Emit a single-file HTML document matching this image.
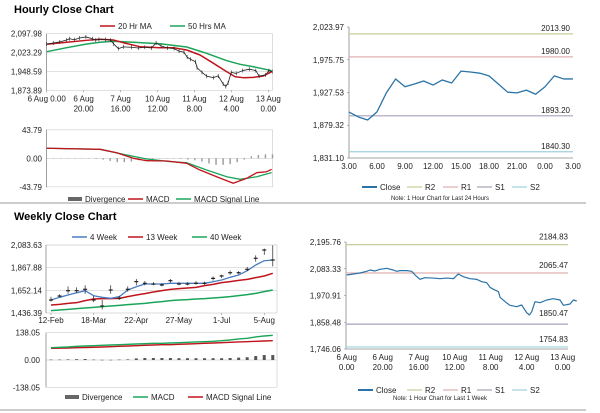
<!DOCTYPE html>
<html><head><meta charset="utf-8">
<style>
html,body{margin:0;padding:0;background:#fff;}
svg{display:block;font-family:"Liberation Sans",Arial,sans-serif;}
.t{font-size:8px;fill:#222;}
.n{font-size:6px;fill:#222;}
</style></head>
<body>
<svg id="s" width="600" height="413" viewBox="0 0 600 413" xmlns="http://www.w3.org/2000/svg">
<text x="14" y="13" font-size="11" font-weight="bold" fill="#000">Hourly Close Chart</text>
<text x="14" y="220" font-size="11" font-weight="bold" fill="#000">Weekly Close Chart</text>
<line x1="0" y1="203" x2="586" y2="203" stroke="#9a9a9a" stroke-width="1"/>
<line x1="0" y1="410" x2="586" y2="410" stroke="#9a9a9a" stroke-width="1"/>
</svg>
<script>
// ---------- DATA ----------
const closeHours=[0,3.7,7.4,11.1,13,15.7,18.5,22.2,25.9,27.8,29.6,33.3,36.1,38,40.7,43.5,48.1,51.9,55.6,59.3,62,64.8,68.5,72.2,75,77.8,79.6,81.5,84.3,85.2,88,90.7,94.4,97.2,100,101.5,102.8,104.6,107.4,111.1,114.8,118.5,120.4,124.1,125.9,127.8];
const closeVals=[2057,2061.3,2065.5,2072.6,2078.1,2073.9,2080.9,2085.2,2078.1,2072.6,2075.4,2075.4,2072.6,2057,2038.8,2045.7,2044.3,2041.5,2044.3,2041.5,2061.3,2050,2041.5,2038.8,2029,2024.8,2005.3,1996.9,1987,1963.3,1944.9,1929.7,1924,1931,1898.6,1888.9,1902.9,1944.9,1940.7,1952,1957.5,1952,1929.7,1935.2,1952,1947.8];
const ma20Hours=[0,10.8,21.7,28.9,36.1,41.5,50.5,61.4,68.6,75.8,83,90.3,97.5,102,106.5,111.9,117.3,121.8];
const ma20Vals=[2056,2064,2071.8,2075.8,2073,2062.3,2046.5,2042.6,2042.6,2033.4,2013.6,1980.8,1947.5,1927.7,1923.8,1925.3,1930.5,1947.5];
const ma50Hours=[0,10.8,21.7,28.9,36.1,46.9,61.4,75.8,86.6,97.5,104.7,111.9,121.8];
const ma50Vals=[2026.7,2042.6,2057.2,2064,2067.9,2064,2058.4,2045.3,2020.4,1991.1,1976.8,1967.3,1951.5];
const hMacdHours=[0,28.9,37.9,46.9,54.2,65,75.8,83,92,101,108.3,113.7,119.1,121.8];
const hMacdVals=[15.4,13.8,8.6,0,-3.7,-4.1,-7.7,-18,-28.3,-38.4,-30.7,-22.1,-20.6,-16.9];
const hSigHours=[0,28.9,43.3,54.2,65,75.8,86.6,97.5,104.7,113.7,121.8];
const hSigVals=[15.4,13.8,5.1,-1.1,-4.6,-6.8,-18,-28.3,-32.3,-28.3,-22.1];
const hDivVals=[0,0,0,0,0,0,0,-1,-2,-4,-6,-6,-5,-3,-2,-1,0,0,0,-1,-2,-3,-5,-8,-10,-10,-9,-6,-2,3,5,6,6];
const hourLabels1=["6 Aug 0.00","6 Aug","7 Aug","10 Aug","11 Aug","12 Aug","13 Aug"];
const hourLabels2=["","20.00","16.00","12.00","8.00","4.00","0.00"];
const hourPriceTicks=[2097.98,2023.29,1948.59,1873.89];
const hourMacdTicks=[43.79,0,-43.79];
const dayLabels=["3.00","6.00","9.00","12.00","15.00","18.00","21.00","0.00","3.00"];
const dayClose=[1898.8,1891.5,1887,1899,1927,1947.5,1936,1940,1944.5,1938.5,1946,1941.5,1959,1957.7,1956,1952,1940,1928,1927,1931,1925,1936,1952,1947.5,1947.5];
const dayTicks=[2023.97,1975.75,1927.53,1879.32,1831.10];
const dayLevels=[2013.90,1980.00,1893.20,1840.30];
const weekTicks=[2195.76,2083.33,1970.91,1858.48,1746.06];
const weekLevels=[2184.83,2065.47,1850.47,1754.83];
const levelColors=["#c8cc9a","#e0b0b0","#a8a0b8","#9fd0dc"];
const levelNames=["R2","R1","S1","S2"];
const wkLabels=["12-Feb","18-Mar","22-Apr","27-May","1-Jul","5-Aug"];
const wkTicks=[2083.63,1867.88,1652.14,1436.39];
const wkClose=[1560,1598,1649,1649,1662,1560,1503,1655,1576,1662,1735,1719,1712,1703,1744,1712,1712,1719,1719,1766,1789,1820,1820,1852,1957,2036,1941];
const wkHigh=[1590,1615,1690,1680,1700,1600,1560,1700,1600,1690,1760,1740,1730,1720,1760,1730,1730,1740,1735,1785,1800,1840,1835,1875,1985,2050,2080];
const wkLow=[1545,1585,1620,1625,1620,1540,1470,1620,1560,1640,1700,1700,1700,1690,1725,1700,1700,1705,1705,1745,1770,1800,1805,1835,1925,1990,1880];
const wk4=[1560,1585.7,1607.6,1629.5,1648.7,1601,1585.7,1576.2,1591.5,1655.2,1686.6,1712.3,1712.3,1712.3,1718.9,1718.9,1718.9,1718.9,1718.9,1734.2,1750.4,1776.1,1797.8,1838.9,1893.2,1934,1940.8];
const wk13=[1512.5,1518.9,1528.4,1534.7,1553.8,1569.6,1572.8,1572.8,1576,1591.9,1607.7,1620.4,1636.3,1649,1661.7,1668,1674.4,1680.7,1696.6,1709.3,1725.1,1734.6,1747.3,1756.9,1772.7,1788.6,1814];
const wk40=[1458.6,1464.9,1471.3,1477.6,1484,1490.3,1496.7,1503,1509.4,1515.7,1522.1,1528.4,1538,1544.3,1553.8,1560.1,1563.3,1569.6,1572.8,1579.2,1585.5,1591.9,1601.4,1610.9,1623.6,1639.5,1655.3];
const wkMacd=[62.4,64.1,65.8,69.2,70.8,72.5,74.2,75.9,77.6,79.3,80.9,82.6,84.3,84.3,86,87.7,89.4,91.1,92.8,94.4,97.8,101.2,106.3,109.6,116.4,121.4,124.8];
const wkSig=[59,59.9,60.7,62.4,63.2,64.1,65.8,67.5,69.2,70.8,72.5,74.2,75.9,77.6,77.6,79.3,80.9,82.6,84.3,86,87.7,89.4,91.1,92.8,94.4,96.1,97.8];
const wkDiv=[2,2,3,4,5,2,1,1,2,3,8,10,10,10,10,9,9,9,9,9,9,10,12,14,20,25,25];
const wkMacdTicks=[138.05,0,-138.05];

// ---------- HELPERS ----------
const S=document.getElementById('s');
const NS="http://www.w3.org/2000/svg";
function mk(tag,attrs){const e=document.createElementNS(NS,tag);for(const k in attrs)e.setAttribute(k,attrs[k]);S.appendChild(e);return e;}
function txt(x,y,s,anchor,cls,name){const e=mk('text',{x:x,y:y,'text-anchor':anchor||'start','class':cls||'t'});e.textContent=s;


return e;}
function line(x1,y1,x2,y2,c,w,name){const e=mk('line',{x1:x1,y1:y1,x2:x2,y2:y2,stroke:c,'stroke-width':w});


return e;}
function poly(xs,ys,fx,fy,c,w,name){let d='';for(let i=0;i<xs.length;i++){d+=(i?'L':'M')+fx(xs[i]).toFixed(2)+' '+fy(ys[i]).toFixed(2);}
const e=mk('path',{d:d,fill:'none',stroke:c,'stroke-width':w,'stroke-linejoin':'round'});


return e;}
function fmt(v){const s=Math.abs(v).toFixed(2);const p=s.split('.');p[0]=p[0].replace(/\B(?=(\d{3})+(?!\d))/g,',');return (v<0?'-':'')+p.join('.');}
function legendLine(x,y,c,label,w,name){line(x,y,x+15,y,c,w||1.5,name+'-swatch');txt(x+18,y+3,label,'start','t',name);}
function legendBox(x,y,label,name){const r=mk('rect',{x:x,y:y-2,width:14,height:4,fill:'#666'});


txt(x+17,y+3,label,'start','t',name);}
const idx=a=>a.map((_,i)=>i);

// ---------- A: Hourly price ----------
(function(){
const L=46.5,R=272.5,T=33.7,B=90.3,vMax=hourPriceTicks[0],vMin=hourPriceTicks[3];
const fx=h=>46.7+h*1.847, fy=v=>T+(vMax-v)/(vMax-vMin)*(B-T);
const fxc=h=>46.7+h*(225.5/closeHours[closeHours.length-1]);
hourPriceTicks.forEach((t,i)=>{line(L,fy(t),R,fy(t),'#cfcfcf',0.7,'hourly-gridline');txt(42,fy(t)+3,fmt(t),'end','t','hourly-y-tick');});
line(L,T,L,B,'#888',0.8,'hourly-y-axis');line(R,T,R,B,'#cfcfcf',0.7,'hourly-plot-border');
hourLabels1.forEach((s,i)=>{const x=fx(i*20);line(x,B,x,B+2,'#888',0.6,'hourly-x-tick-mark');txt(x,B+11,s,'middle','t','hourly-x-label');if(hourLabels2[i])txt(x,B+21,hourLabels2[i],'middle','t','hourly-x-label-time');});
poly(ma50Hours,ma50Vals,fx,fy,'#1aa55a',1.5,'ma50-line');
poly(ma20Hours,ma20Vals,fx,fy,'#c0141c',1.5,'ma20-line');
poly(closeHours,closeVals,fxc,fy,'#222',0.8,'hourly-price-candles');
closeHours.forEach((h,i)=>{line(fxc(h),fy(closeVals[i])-2,fxc(h),fy(closeVals[i])+2,'#222',0.6,'hourly-candle');});
legendLine(100,26,'#c0141c','20 Hr MA',1.5,'legend-20hr-ma');
legendLine(170,26,'#1aa55a','50 Hrs MA',1.5,'legend-50hrs-ma');
})();
// ---------- B: Hourly MACD ----------
(function(){
const L=46.5,R=272.5,T=129.8,B=187.3,m=hourMacdTicks[0];
const fx=h=>46.7+h*1.847, fy=v=>158.3-v/m*28.5;
hourMacdTicks.forEach(t=>{line(L,fy(t),R,fy(t),'#cfcfcf',0.7,'hourly-macd-gridline');txt(42,fy(t)+3,fmt(t),'end','t','hourly-macd-y-tick');});
line(L,T,L,B,'#888',0.8,'hourly-macd-y-axis');line(R,T,R,B,'#cfcfcf',0.7,'hourly-macd-border');
hDivVals.forEach((v,i)=>{const x=fx(i*4*0.955),y0=fy(0),y1=fy(v);const r=mk('rect',{x:x-0.7,y:Math.min(y0,y1),width:1.4,height:Math.max(0.3,Math.abs(y1-y0)),fill:'#999'});

});
poly(hSigHours,hSigVals,fx,fy,'#1aa55a',1.3,'hourly-signal-line');
poly(hMacdHours,hMacdVals,fx,fy,'#c0141c',1.3,'hourly-macd-line');
legendBox(68,199,'Divergence','legend-hourly-divergence');
legendLine(128,199,'#c0141c','MACD',1.5,'legend-hourly-macd');
legendLine(176,199,'#1aa55a','MACD Signal Line',1.5,'legend-hourly-signal');
})();
// ---------- C: Last 24 hours ----------
(function(){
const L=349,R=573,T=27,B=158,vMax=dayTicks[0],vMin=dayTicks[4];
const fx=i=>L+i*(R-L)/24, fy=v=>T+(vMax-v)/(vMax-vMin)*(B-T);
dayTicks.forEach(t=>{txt(344,fy(t)+3,fmt(t),'end','t','day-y-tick');line(L-2,fy(t),L,fy(t),'#888',0.6,'day-y-tick-mark');});
line(L,T,L,B,'#888',0.8,'day-y-axis');line(L,B,R,B,'#888',0.8,'day-x-axis');
dayLabels.forEach((s,i)=>{txt(fx(i*3),B+11,s,'middle','t','day-x-label');});
dayLevels.forEach((v,i)=>{line(L,fy(v),R,fy(v),levelColors[i],1.2,'day-level-'+levelNames[i]);txt(570,fy(v)-3,v.toFixed(2),'end','t','day-level-label');});
poly(idx(dayClose),dayClose,fx,fy,'#2a73a8',1.3,'day-close-line');
legendLine(362,187,'#2a73a8','Close',2,'legend-day-close');
legendLine(407,187,levelColors[0],'R2',1.2,'legend-day-r2');
legendLine(443,187,levelColors[1],'R1',1.2,'legend-day-r1');
legendLine(477,187,levelColors[2],'S1',1.2,'legend-day-s1');
legendLine(512,187,levelColors[3],'S2',1.2,'legend-day-s2');
txt(440,200,'Note: 1 Hour Chart for Last 24 Hours','middle','n','day-note');
})();
// ---------- D: Last week hourly ----------
(function(){
const L=346,R=568,T=242,B=349,vMax=weekTicks[0],vMin=weekTicks[4];
const fx=h=>346.7+h*1.8, fy=v=>T+(vMax-v)/(vMax-vMin)*(B-T);
weekTicks.forEach(t=>{txt(341,fy(t)+3,fmt(t),'end','t','week-y-tick');line(L-2,fy(t),L,fy(t),'#888',0.6,'week-y-tick-mark');});
line(L,T,L,B,'#888',0.8,'week-y-axis');line(L,B,R,B,'#888',0.8,'week-x-axis');
hourLabels1.forEach((s,i)=>{const x=fx(i*20);const a=s.split(' ');txt(x,B+11,a[0]+' '+a[1],'middle','t','week-x-label');txt(x,B+21,hourLabels2[i]||'0.00','middle','t','week-x-label-time');});
weekLevels.forEach((v,i)=>{line(L,fy(v),R,fy(v),levelColors[i],1.2,'week-level-'+levelNames[i]);txt(568,fy(v)-(i===2?8:5),v.toFixed(2),'end','t','week-level-label');});
poly(closeHours,closeVals,fx,fy,'#2a73a8',1.2,'week-close-line');
legendLine(358,390,'#2a73a8','Close',2,'legend-week-close');
legendLine(407,390,levelColors[0],'R2',1.2,'legend-week-r2');
legendLine(443,390,levelColors[1],'R1',1.2,'legend-week-r1');
legendLine(477,390,levelColors[2],'S1',1.2,'legend-week-s1');
legendLine(512,390,levelColors[3],'S2',1.2,'legend-week-s2');
txt(440,400,'Note: 1 Hour Chart for Last 1 Week','middle','n','week-note');
})();
// ---------- E: Weekly price ----------
(function(){
const L=46,R=277,T=245,B=313,vMax=wkTicks[0],vMin=wkTicks[3];
const fx=w=>51+w*8.53, fy=v=>T+(vMax-v)/(vMax-vMin)*(B-T);
wkTicks.forEach(t=>{line(L,fy(t),R,fy(t),'#cfcfcf',0.7,'weekly-gridline');txt(42,fy(t)+3,fmt(t),'end','t','weekly-y-tick');});
line(L,T,L,B,'#888',0.8,'weekly-y-axis');line(R,T,R,B,'#cfcfcf',0.7,'weekly-border');
wkLabels.forEach((s,i)=>{const x=fx(i*5);line(x,B,x,B+2,'#888',0.6,'weekly-x-tick-mark');txt(x,B+10,s,'middle','t','weekly-x-label');});
poly(idx(wk40),wk40,fx,fy,'#1aa55a',1.5,'wk40-line');
poly(idx(wk13),wk13,fx,fy,'#c0141c',1.5,'wk13-line');
poly(idx(wk4),wk4,fx,fy,'#4a7cc0',1.3,'wk4-line');
wkClose.forEach((c,i)=>{const x=fx(i);line(x,fy(wkHigh[i]),x,fy(wkLow[i]),'#222',0.7,'weekly-candle-wick');line(x-2,fy(c),x+2,fy(c),'#222',1.2,'weekly-candle-body');});
legendLine(72,237,'#4a7cc0','4 Week',1.5,'legend-4-week');
legendLine(128,237,'#c0141c','13 Week',1.5,'legend-13-week');
legendLine(192,237,'#1aa55a','40 Week',1.5,'legend-40-week');
})();
// ---------- F: Weekly MACD ----------
(function(){
const L=46,R=277,T=332.7,B=387.3,m=wkMacdTicks[0];
const fx=w=>51+w*8.53, fy=v=>360-v/m*27.3;
wkMacdTicks.forEach(t=>{line(L,fy(t),R,fy(t),'#cfcfcf',0.7,'weekly-macd-gridline');txt(40,fy(t)+3,fmt(t),'end','t','weekly-macd-y-tick');});
line(L,T,L,B,'#888',0.8,'weekly-macd-y-axis');line(R,T,R,B,'#cfcfcf',0.7,'weekly-macd-border');
wkDiv.forEach((v,i)=>{const y0=fy(0),y1=fy(v);const r=mk('rect',{x:fx(i)-1.5,y:Math.min(y0,y1),width:3,height:Math.max(0.5,Math.abs(y1-y0)),fill:'#555'});

});
poly(idx(wkSig),wkSig,fx,fy,'#c0141c',1.4,'weekly-signal-line');
poly(idx(wkMacd),wkMacd,fx,fy,'#1aa55a',1.4,'weekly-macd-line');
legendBox(65,397,'Divergence','legend-weekly-divergence');
legendLine(133,397,'#1aa55a','MACD',1.5,'legend-weekly-macd');
legendLine(188,397,'#c0141c','MACD Signal Line',1.5,'legend-weekly-signal');
})();
</script>
</body></html>
